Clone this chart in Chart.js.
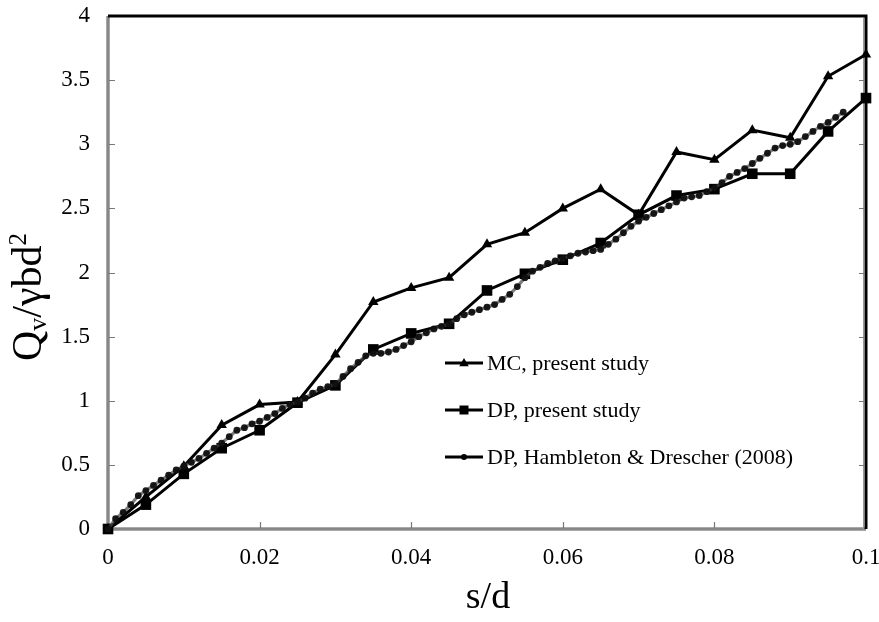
<!DOCTYPE html>
<html>
<head>
<meta charset="utf-8">
<script src="https://cdn.jsdelivr.net/npm/chart.js@4.4.1/dist/chart.umd.min.js"></script>
<style>
  html, body { margin: 0; padding: 0; background: #fff; }
  #wrap { width: 879px; height: 622px; }
</style>
</head>
<body>
<div id="wrap"><canvas id="c" width="879" height="622"></canvas></div>
<script>
// s/d positions of the present study results
const presentSD = [0, 0.005, 0.01, 0.015, 0.02, 0.025, 0.03, 0.035, 0.04, 0.045, 0.05,
                   0.055, 0.06, 0.065, 0.07, 0.075, 0.08, 0.085, 0.09, 0.095, 0.1];
// MC, present study
const mcValues = [0, 0.25, 0.49, 0.81, 0.97, 0.99, 1.36, 1.77, 1.88, 1.96, 2.22,
                  2.31, 2.50, 2.65, 2.45, 2.94, 2.88, 3.11, 3.05, 3.53, 3.70];
// DP, present study
const dpValues = [0, 0.19, 0.43, 0.63, 0.77, 0.985, 1.12, 1.40, 1.525, 1.60, 1.86,
                  1.99, 2.10, 2.23, 2.45, 2.60, 2.65, 2.77, 2.77, 3.10, 3.36];
// DP, Hambleton & Drescher (2008)
const hdSD = [0, 0.001, 0.002, 0.003, 0.004, 0.005, 0.006, 0.007, 0.008, 0.009,
              0.010, 0.011, 0.012, 0.013, 0.014, 0.015, 0.016, 0.017, 0.018, 0.019,
              0.020, 0.021, 0.022, 0.023, 0.024, 0.025, 0.026, 0.027, 0.028, 0.029,
              0.030, 0.031, 0.032, 0.033, 0.034, 0.035, 0.036, 0.037, 0.038, 0.039,
              0.040, 0.041, 0.042, 0.043, 0.044, 0.045, 0.046, 0.047, 0.048, 0.049,
              0.050, 0.051, 0.052, 0.053, 0.054, 0.055, 0.056, 0.057, 0.058, 0.059,
              0.060, 0.061, 0.062, 0.063, 0.064, 0.065, 0.066, 0.067, 0.068, 0.069,
              0.070, 0.071, 0.072, 0.073, 0.074, 0.075, 0.076, 0.077, 0.078, 0.079,
              0.080, 0.081, 0.082, 0.083, 0.084, 0.085, 0.086, 0.087, 0.088, 0.089,
              0.090, 0.091, 0.092, 0.093, 0.094, 0.095, 0.096, 0.097];
const hdValues = [0.00, 0.08, 0.13, 0.19, 0.26, 0.30, 0.34, 0.38, 0.42, 0.46,
                  0.49, 0.52, 0.55, 0.59, 0.63, 0.67, 0.72, 0.77, 0.79, 0.82,
                  0.84, 0.87, 0.90, 0.94, 0.97, 0.99, 1.02, 1.06, 1.09, 1.11,
                  1.13, 1.19, 1.25, 1.30, 1.35, 1.37, 1.37, 1.38, 1.40, 1.43,
                  1.46, 1.50, 1.53, 1.56, 1.58, 1.60, 1.64, 1.67, 1.69, 1.71,
                  1.73, 1.75, 1.79, 1.83, 1.89, 1.96, 2.01, 2.04, 2.07, 2.09,
                  2.11, 2.13, 2.15, 2.16, 2.17, 2.18, 2.22, 2.26, 2.31, 2.36,
                  2.40, 2.43, 2.46, 2.49, 2.52, 2.55, 2.58, 2.59, 2.60, 2.63,
                  2.66, 2.70, 2.75, 2.78, 2.81, 2.85, 2.89, 2.93, 2.97, 2.99,
                  3.00, 3.02, 3.06, 3.10, 3.14, 3.17, 3.21, 3.25];

const xTicks = [0, 0.02, 0.04, 0.06, 0.08, 0.1];
const xTickLabels = ['0', '0.02', '0.04', '0.06', '0.08', '0.1'];
const yTicks = [0, 0.5, 1, 1.5, 2, 2.5, 3, 3.5, 4];
const yTickLabels = ['0', '0.5', '1', '1.5', '2', '2.5', '3', '3.5', '4'];

const legendItems = [
  { text: 'MC, present study', marker: 'triangle' },
  { text: 'DP, present study', marker: 'rect' },
  { text: 'DP, Hambleton & Drescher (2008)', marker: 'circle' }
];

const SERIF = '"Liberation Serif", "Times New Roman", serif';
const toPts = (xs, ys) => xs.map((x, i) => ({ x: x, y: ys[i] }));

// Soft rendering for the dense dotted series
const softDots = {
  id: 'softDots',
  beforeDatasetDraw(chart, args) {
    if (args.index === 0) { chart.ctx.save(); chart.ctx.filter = 'blur(0.6px)'; }
  },
  afterDatasetDraw(chart, args) {
    if (args.index === 0) { chart.ctx.restore(); }
  }
};

// Frame: grey left/bottom axes, heavy black top/right edges, inward ticks
const frame = {
  id: 'frame',
  beforeDatasetsDraw(chart) {
    const { ctx, chartArea: a, scales } = chart;
    ctx.save();
    // left and bottom axes
    ctx.strokeStyle = '#555';
    ctx.lineWidth = 3;
    ctx.beginPath();
    ctx.moveTo(a.left, a.top);
    ctx.lineTo(a.left, a.bottom);
    ctx.lineTo(a.right, a.bottom);
    ctx.stroke();
    ctx.strokeStyle = '#bbb';
    ctx.lineWidth = 1;
    ctx.beginPath();
    ctx.moveTo(a.left, a.top);
    ctx.lineTo(a.left, a.bottom);
    ctx.lineTo(a.right, a.bottom);
    ctx.stroke();
    // top and right edges
    ctx.strokeStyle = '#000';
    ctx.lineWidth = 3;
    ctx.beginPath();
    ctx.moveTo(a.left, a.top);
    ctx.lineTo(a.right, a.top);
    ctx.lineTo(a.right, a.bottom);
    ctx.stroke();
    ctx.strokeStyle = '#999';
    ctx.lineWidth = 1;
    ctx.beginPath();
    ctx.moveTo(a.right - 2.5, a.top + 2);
    ctx.lineTo(a.right - 2.5, a.bottom);
    ctx.stroke();
    // inward ticks
    ctx.strokeStyle = '#777';
    ctx.lineWidth = 1.2;
    ctx.beginPath();
    yTicks.forEach(v => {
      if (v === 0 || v === 4) return;
      const y = Math.round(scales.y.getPixelForValue(v)) + 0.5;
      ctx.moveTo(a.left + 1, y); ctx.lineTo(a.left + 7, y);
      ctx.moveTo(a.right - 2, y); ctx.lineTo(a.right - 7, y);
    });
    xTicks.forEach(v => {
      if (v === 0 || v === 0.1) return;
      const x = Math.round(scales.x.getPixelForValue(v)) + 0.5;
      ctx.moveTo(x, a.bottom - 1); ctx.lineTo(x, a.bottom - 7);
    });
    ctx.stroke();
    ctx.restore();
  }
};

function drawMarker(ctx, type, x, y, r) {
  ctx.beginPath();
  if (type === 'triangle') {
    ctx.moveTo(x, y - r);
    ctx.lineTo(x + r * 0.95, y + r * 0.65);
    ctx.lineTo(x - r * 0.95, y + r * 0.65);
    ctx.closePath();
  } else if (type === 'rect') {
    ctx.rect(x - r, y - r, 2 * r, 2 * r);
  } else {
    ctx.arc(x, y, r, 0, Math.PI * 2);
  }
  ctx.fill();
}

// Legend inside the plot, and axis titles with sub/superscripts
const annotations = {
  id: 'annotations',
  afterDraw(chart) {
    const ctx = chart.ctx;
    ctx.save();
    // legend
    const rows = [363, 410, 457];
    const sizes = { triangle: 5, rect: 4.5, circle: 3 };
    legendItems.forEach((it, i) => {
      const y = rows[i];
      ctx.strokeStyle = '#000';
      ctx.lineWidth = 3;
      ctx.beginPath();
      ctx.moveTo(445, y); ctx.lineTo(483, y);
      ctx.stroke();
      ctx.fillStyle = '#000';
      drawMarker(ctx, it.marker, 464, y, sizes[it.marker]);
      ctx.font = '22px ' + SERIF;
      ctx.textBaseline = 'middle';
      ctx.textAlign = 'left';
      ctx.fillText(it.text, 487, y + 1);
    });

    // x title
    ctx.font = '38px ' + SERIF;
    ctx.textAlign = 'center';
    ctx.textBaseline = 'alphabetic';
    ctx.fillStyle = '#000';
    ctx.fillText('s/d', 488, 608);

    // y title: Q_v / γ b d^2, rotated
    ctx.translate(41, 361);
    ctx.rotate(-Math.PI / 2);
    ctx.textAlign = 'left';
    const parts = [
      { t: 'Q', size: 42, dy: 0 },
      { t: 'v', size: 26, dy: 5 },
      { t: '/γbd', size: 42, dy: 0 },
      { t: '2', size: 25, dy: -15 }
    ];
    let px = 0;
    parts.forEach(p => {
      ctx.font = p.size + 'px ' + SERIF;
      ctx.fillText(p.t, px, p.dy);
      px += ctx.measureText(p.t).width;
    });
    ctx.restore();
  }
};

new Chart(document.getElementById('c'), {
  type: 'scatter',
  data: {
    datasets: [
      {
        label: 'DP, Hambleton & Drescher (2008)',
        data: toPts(hdSD, hdValues),
        showLine: true,
        borderColor: 'rgba(70,70,70,0.7)',
        borderWidth: 3.2,
        pointStyle: 'circle',
        pointRadius: 3.4,
        pointBackgroundColor: 'rgba(15,15,15,0.95)',
        pointBorderWidth: 0,
        clip: false
      },
      {
        label: 'DP, present study',
        data: toPts(presentSD, dpValues),
        showLine: true,
        borderColor: '#000',
        borderWidth: 3,
        pointStyle: 'rect',
        pointRadius: 7.5,
        pointBackgroundColor: '#000',
        pointBorderWidth: 0,
        clip: false
      },
      {
        label: 'MC, present study',
        data: toPts(presentSD, mcValues),
        showLine: true,
        borderColor: '#000',
        borderWidth: 3,
        pointStyle: 'triangle',
        pointRadius: 6,
        pointBackgroundColor: '#000',
        pointBorderWidth: 0,
        clip: false
      }
    ]
  },
  options: {
    responsive: false,
    animation: false,
    devicePixelRatio: 1,
    layout: { padding: { left: 0, right: 13, top: 16, bottom: 0 } },
    plugins: { legend: { display: false }, tooltip: { enabled: false } },
    events: [],
    scales: {
      x: {
        type: 'linear', min: 0, max: 0.1,
        afterBuildTicks: s => { s.ticks = xTicks.map(v => ({ value: v })); },
        afterFit: s => { s.height = 93; s.paddingLeft = 0; s.paddingRight = 0; },
        ticks: {
          callback: (v, i) => xTickLabels[i],
          font: { family: SERIF, size: 23 }, color: '#000',
          padding: 15, maxRotation: 0, autoSkip: false
        },
        grid: { display: false, drawTicks: false },
        border: { display: false }
      },
      y: {
        type: 'linear', min: 0, max: 4,
        afterBuildTicks: s => { s.ticks = yTicks.map(v => ({ value: v })); },
        afterFit: s => { s.width = 108; s.paddingTop = 0; s.paddingBottom = 0; },
        ticks: {
          callback: (v, i) => yTickLabels[i],
          font: { family: SERIF, size: 23 }, color: '#000',
          padding: 18, autoSkip: false
        },
        grid: { display: false, drawTicks: false },
        border: { display: false }
      }
    }
  },
  plugins: [softDots, frame, annotations]
});
</script>
</body>
</html>
